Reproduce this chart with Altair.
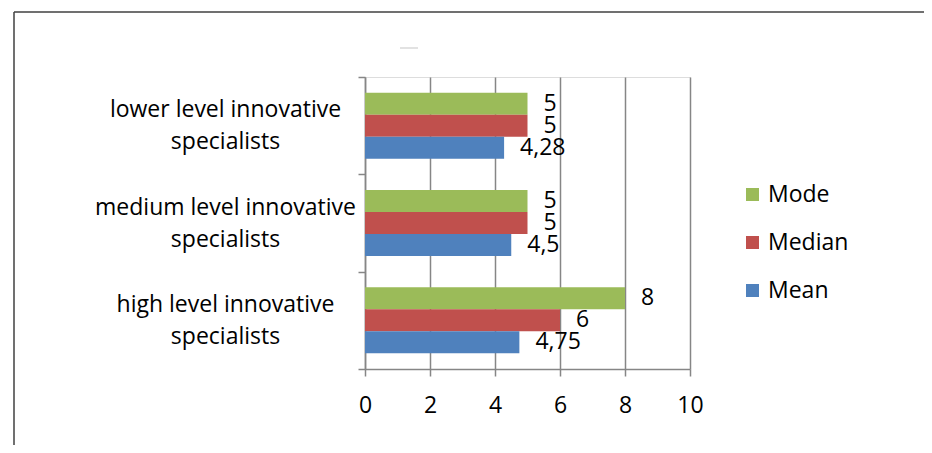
import altair as alt
import pandas as pd

categories = [
    "lower level innovative specialists",
    "medium level innovative specialists",
    "high level innovative specialists",
]
series = ["Mode", "Median", "Mean"]
mode_vals = [5, 5, 8]
median_vals = [5, 5, 6]
mean_vals = [4.28, 4.5, 4.75]
colors = ["#9BBB59", "#C0504D", "#4F81BD"]
x_ticks = [0, 2, 4, 6, 8, 10]

rows = []
for s, vals in zip(series, [mode_vals, median_vals, mean_vals]):
    for c, v in zip(categories, vals):
        rows.append({"category": c, "series": s, "value": v,
                     "label": f"{v:g}".replace(".", ",")})
df = pd.DataFrame(rows)

FONT = "Open Sans"
GRAY = "#868686"
FS = 23

y_enc = alt.Y(
    "category:N", sort=categories,
    scale=alt.Scale(paddingInner=0, paddingOuter=0),
    axis=alt.Axis(
        title=None, labelAlign="center", labelBaseline="middle", labelPadding=133,
        labelOffset=-16,
        labelExpr="indexof(datum.label + '', ' specialists') < 0 ? '' : "
                  "[replace(datum.label, ' specialists', ''), 'specialists']",
        labelLineHeight=32, labelFontSize=FS, labelFont=FONT, labelColor="black",
        tickBand="extent", tickSize=7, tickWidth=1.5, domainWidth=1.5,
        domainColor=GRAY, tickColor=GRAY, grid=False, labelLimit=0,
    ),
)
x_enc = alt.X(
    "value:Q",
    scale=alt.Scale(domain=[0, 10], nice=False),
    axis=alt.Axis(
        title=None, values=x_ticks, tickSize=7, tickWidth=1.5, domainWidth=1.5,
        domainColor=GRAY, tickColor=GRAY, grid=True, gridColor=GRAY, gridWidth=1.5,
        labelFontSize=FS, labelFont=FONT, labelColor="black", labelPadding=18,
        labelFlush=False,
    ),
)
yoff = alt.YOffset("series:N", sort=series,
                   scale=alt.Scale(paddingInner=0, paddingOuter=0.71))

bars = alt.Chart(df).mark_bar(height={"band": 1}).encode(
    x=x_enc, y=y_enc, yOffset=yoff,
    color=alt.Color(
        "series:N", sort=series,
        scale=alt.Scale(domain=series, range=colors),
        legend=alt.Legend(
            title=None, orient="none", legendX=376, legendY=106,
            symbolType="square", symbolSize=169, symbolStrokeWidth=0,
            labelFontSize=FS, labelFont=FONT, labelColor="black",
            rowPadding=24, labelOffset=4, padding=0,
        ),
    ),
)

texts = alt.Chart(df).mark_text(
    align="left", baseline="middle", dx=16, fontSize=FS, font=FONT, color="black"
).encode(x=alt.X("value:Q"), y=alt.Y("category:N", sort=categories), yOffset=yoff,
         text="label:N")

frame_df = pd.DataFrame({"a": [0]})
top_line = alt.Chart(frame_df).mark_rule(color="#404040", strokeWidth=1.5).encode(
    x=alt.value(-351), x2=alt.value(580), y=alt.value(-65))
left_line = alt.Chart(frame_df).mark_rule(color="#404040", strokeWidth=1.5).encode(
    x=alt.value(-351), y=alt.value(-65), y2=alt.value(400))
dash = alt.Chart(frame_df).mark_rule(color="#d9d9d9", strokeWidth=1.5).encode(
    x=alt.value(35), x2=alt.value(53), y=alt.value(-29))

chart = alt.layer(bars, texts, top_line, left_line, dash).properties(
    width=325, height=292,
    autosize=alt.AutoSizeParams(type="none"),
    padding={"left": 357, "top": 69, "right": 234, "bottom": 76},
).configure_view(stroke=None).configure(background="white")

chart.save("out.html", embed_options={"renderer": "svg", "actions": False})
